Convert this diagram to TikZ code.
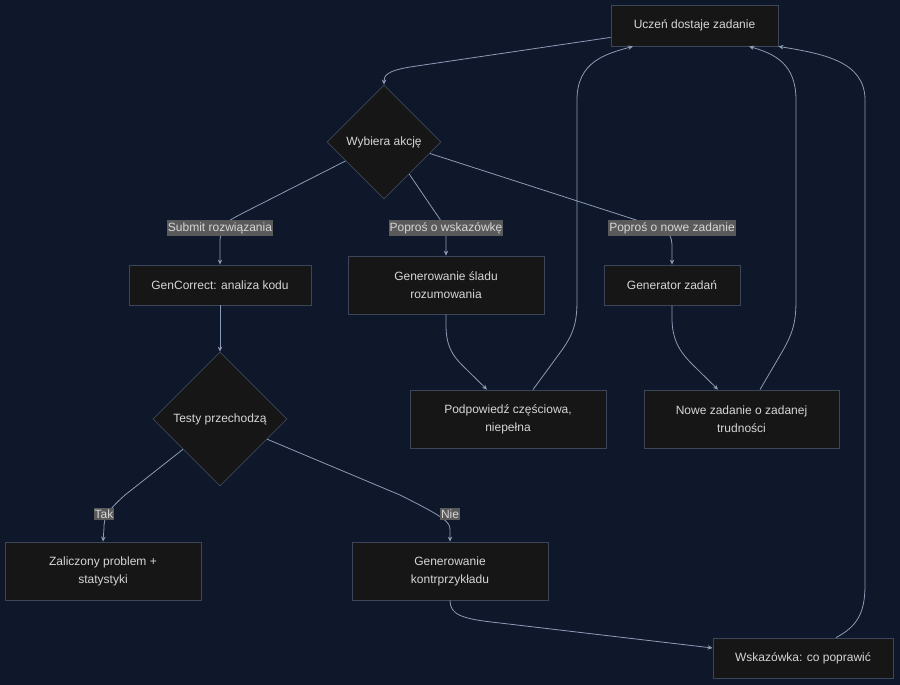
\documentclass[tikz,border=0pt]{standalone}
\usepackage{fontspec}
\setmainfont{Liberation Sans}
\usetikzlibrary{shapes.geometric,arrows.meta,calc}
\definecolor{bgc}{RGB}{15,23,42}
\definecolor{nodefill}{RGB}{22,22,22}
\definecolor{nodeborder}{RGB}{60,70,90}
\definecolor{edgec}{RGB}{140,156,182}
\definecolor{txt}{RGB}{214,214,214}
\definecolor{lblbg}{RGB}{90,90,90}
\tikzset{
  box/.style={draw=nodeborder, line width=0.8pt, fill=nodefill, text=txt, font=\fontsize{12}{18}\selectfont, align=center, inner sep=0pt},
  dia/.style={shape=diamond, draw=nodeborder, line width=0.8pt, fill=nodefill, text=txt, font=\fontsize{12}{18}\selectfont, inner sep=0pt},
  edge/.style={draw=edgec, line width=0.8pt, -{Stealth[length=5pt,width=4.5pt]}},
  lbl/.style={fill=lblbg, text=txt, font=\fontsize{12}{14}\selectfont, inner xsep=1pt, inner ysep=2pt}
}
\begin{document}
\begin{tikzpicture}[x=1pt,y=-1pt]
\fill[bgc] (0,0) rectangle (900,685);
\useasboundingbox (0,0) rectangle (900,685);

\node[box, minimum width=167, minimum height=41] (U) at (694.5,25.5) {\raisebox{-1.5pt}{Uczeń dostaje zadanie}};
\node[dia, minimum width=114, minimum height=114] (W) at (384,142) {\raisebox{-1pt}{Wybiera akcję}};
\node[box, minimum width=182, minimum height=40] (G) at (220,285) {\raisebox{-1pt}{GenCorrect: analiza kodu}};
\node[box, minimum width=196, minimum height=58] (S) at (446,285) {Generowanie śladu\\rozumowania};
\node[box, minimum width=136, minimum height=40] (Z) at (672,285) {\raisebox{-1pt}{Generator zadań}};
\node[dia, minimum width=134, minimum height=134] (T) at (220,419) {\raisebox{-1pt}{Testy przechodzą}};
\node[box, minimum width=196, minimum height=58] (P) at (508,419) {Podpowiedź częściowa,\\niepełna};
\node[box, minimum width=195, minimum height=58] (N) at (741.5,419) {Nowe zadanie o zadanej\\trudności};
\node[box, minimum width=196, minimum height=58] (A) at (103,571) {Zaliczony problem +\\statystyki};
\node[box, minimum width=196, minimum height=58] (K) at (450,571) {Generowanie\\kontrprzykładu};
\node[box, minimum width=180, minimum height=40] (H) at (803,658) {\raisebox{-1pt}{Wskazówka: co poprawić}};

% Uczen -> Wybiera
\draw[edge] ([yshift=9]U.south west) -- (410,67) .. controls (386,71) and (384,76) .. (W.north);
% Wybiera -> GenCorrect
\draw[edge] ($(W.west)!0.33!(W.south)$) -- (245,212) .. controls (222,224) .. (220,240) -- (G.north);
\node[lbl] (l1) at (220,228) {Submit rozwiązania};
% Wybiera -> slad
\draw[edge] ($(W.east)!0.56!(W.south)$) -- (435,212) .. controls (446,228) .. (446,240) -- (S.north);
\node[lbl] (l2) at (446,228) {Poproś o wskazówkę};
% Wybiera -> Generator
\draw[edge] ($(W.east)!0.2!(W.south)$) -- (630,218) .. controls (672,232) .. (672,250) -- (Z.north);
\node[lbl] (l3) at (672,228) {Poproś o nowe zadanie};
% GenCorrect -> Testy
\draw[edge] (G.south) -- (T.north);
% slad -> Podpowiedz
\draw[edge] (S.south) -- (446,325) .. controls (446,345) and (452,355) .. (462,365) -- ([xshift=-21]P.north);
% Generator -> Nowe
\draw[edge] (Z.south) -- (672,318) .. controls (672,340) and (680,352) .. (692,364) -- ([xshift=-23.5]N.north);
% Podpowiedz -> Uczen
\draw[edge] ([xshift=25]P.north) -- (562,350) .. controls (574,333) and (577,322) .. (577,300) -- (577,100) .. controls (577,62) and (605,54) .. ([xshift=-61.5]U.south);
% Nowe -> Uczen
\draw[edge] ([xshift=18.5]N.north) -- (782,352) .. controls (793,333) and (796,322) .. (796,300) -- (796,100) .. controls (796,64) and (775,54) .. ([xshift=54.5]U.south);
% Testy -> Zaliczony
\draw[edge] ($(T.west)!0.45!(T.south)$) -- (125,495) .. controls (106,512) and (104,518) .. (104,528) -- (A.north);
\node[lbl] (l4) at (104,514) {Tak};
% Testy -> kontr
\draw[edge] ($(T.east)!0.3!(T.south)$) -- (400,495) .. controls (446,518) and (450,522) .. (450,530) -- (K.north);
\node[lbl] (l5) at (450,514) {Nie};
% kontr -> Wskazowka
\draw[edge] (K.south) .. controls (450,615) and (462,619) .. (500,623) -- ([yshift=10]H.west);
% Wskazowka -> Uczen
\draw[edge] ([xshift=33]H.north) .. controls (858,626) and (865,612) .. (865,585) -- (865,100) .. controls (865,62) and (825,54) .. (U.south east);
\end{tikzpicture}
\end{document}
